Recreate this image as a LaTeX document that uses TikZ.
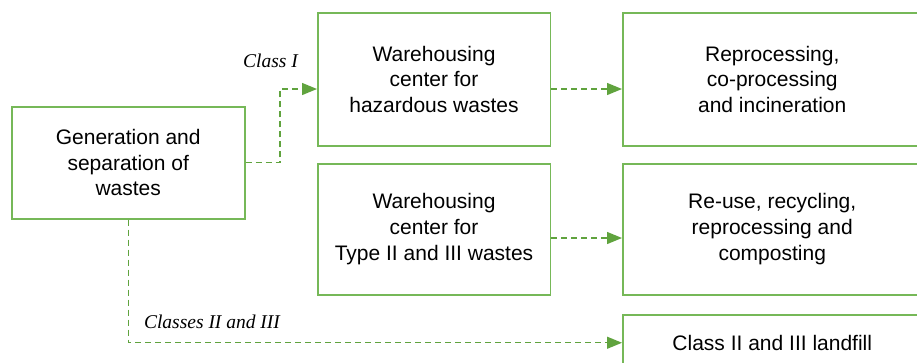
\documentclass[tikz,border=0pt]{standalone}
\usepackage{fontspec}
\setmainfont{Liberation Sans}
\newfontfamily\lblfont{Liberation Serif}
\usetikzlibrary{arrows.meta,calc}
\definecolor{boxgreen}{RGB}{118,184,88}
\definecolor{linegreen}{RGB}{96,163,62}
\tikzset{
  box/.style={draw=boxgreen, line width=1.5pt, fill=white, inner sep=0pt, align=center,
    font=\fontsize{21}{25.7}\selectfont, anchor=north west},
  conn/.style={draw=linegreen, line width=1.3pt, dash pattern=on 6pt off 4pt,
    -{Triangle[length=15pt,width=12pt,fill=linegreen]}},
  lbl/.style={font=\lblfont\itshape\fontsize{19.5}{22}\selectfont, inner sep=0pt}
}
\begin{document}
\begin{tikzpicture}[x=1pt,y=-1pt]
\useasboundingbox (0,0) rectangle (917,362);
\clip (0,0) rectangle (917,362);
\node[box, minimum width=233pt, minimum height=112pt] (gen) at (11,106)
  {Generation and\\separation of\\wastes};
\node[box, minimum width=232.5pt, minimum height=133pt] (wh1) at (317,12)
  {Warehousing\\center for\\hazardous wastes};
\node[box, minimum width=232.5pt, minimum height=131pt] (wh2) at (317,163)
  {Warehousing\\center for\\Type II and III wastes};
\node[box, minimum width=299pt, minimum height=133pt] (rp) at (622,12)
  {Reprocessing,\\co-processing\\and incineration};
\node[box, minimum width=299pt, minimum height=131pt] (rr) at (622,163)
  {Re-use, recycling,\\reprocessing and\\composting};
\node[box, minimum width=299pt, minimum height=56pt] (lf) at (622,314)
  {Class II and III landfill};
\coordinate (a1) at (280,89);
\coordinate (a2) at (0,238);
\draw[conn] (gen.east) -- (gen.east -| a1) -- (a1) -- (a1 -| wh1.west);
\draw[conn] (wh1.east |- a1) -- (rp.west |- a1);
\draw[conn] (wh2.east |- a2) -- (rr.west |- a2);
\draw[conn] (gen.south) |- (lf.west);
\node[lbl] (l1) at (270.5,61) {Class I};
\node[lbl] (l2) at (212,322) {Classes II and III};
\end{tikzpicture}
\end{document}
